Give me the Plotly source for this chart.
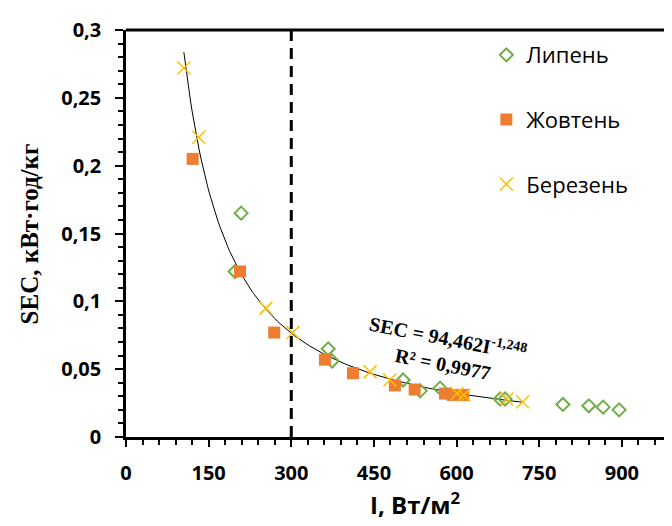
import numpy as np
import plotly.graph_objects as go

# Data
lypen_x = [198, 209, 367, 374, 503, 534, 570, 679, 688, 793, 840, 866, 895]
lypen_y = [0.122, 0.165, 0.065, 0.056, 0.042, 0.034, 0.036, 0.028, 0.028, 0.024, 0.023, 0.022, 0.020]

zhovten_x = [121, 207, 269, 361, 412, 488, 524, 579, 593, 612]
zhovten_y = [0.205, 0.122, 0.077, 0.057, 0.047, 0.038, 0.035, 0.032, 0.031, 0.031]

berezen_x = [105, 132, 254, 303, 443, 479, 601, 613, 691, 720]
berezen_y = [0.272, 0.221, 0.095, 0.077, 0.048, 0.042, 0.032, 0.031, 0.028, 0.026]

# Power trendline shown on the chart: SEC = 94.462 * I^-1.248
fit_a = 94.462
fit_b = -1.248

x_ticks = [0, 150, 300, 450, 600, 750, 900]
y_ticks = [0, 0.05, 0.1, 0.15, 0.2, 0.25, 0.3]
y_tick_text = ["0", "0,05", "0,1", "0,15", "0,2", "0,25", "0,3"]
threshold_x = 300

fit_x = np.linspace(min(berezen_x), max(berezen_x), 200)
fit_y = fit_a * fit_x ** fit_b

tick_font = dict(family="Open Sans", size=20, color="black", weight="bold")

fig = go.Figure()
fig.add_trace(go.Scatter(x=fit_x, y=fit_y, mode="lines", line=dict(color="black", width=1),
                         showlegend=False, hoverinfo="skip"))
fig.add_trace(go.Scatter(x=lypen_x, y=lypen_y, mode="markers", name="Липень", legendgroup="a",
                         marker=dict(symbol="diamond-open", size=10, color="#70AD47",
                                     line=dict(width=2, color="#70AD47"))))
fig.add_trace(go.Scatter(x=zhovten_x, y=zhovten_y, mode="markers", name="Жовтень", legendgroup="b",
                         marker=dict(symbol="square", size=12, color="#ED7D31")))
fig.add_trace(go.Scatter(x=berezen_x, y=berezen_y, mode="markers", name="Березень", legendgroup="c",
                         marker=dict(symbol="x-thin-open", size=13, color="#FFC000",
                                     line=dict(width=1.5, color="#FFC000"))))

fig.add_shape(type="line", xref="x", yref="y", x0=threshold_x, x1=threshold_x, y0=0, y1=0.3,
              line=dict(color="black", width=3, dash="11px,7px"))
fig.add_shape(type="line", xref="paper", yref="paper", x0=0, x1=1, y0=1, y1=1,
              line=dict(color="black", width=3))

fig.add_annotation(xref="paper", yref="paper", x=0.585, y=0.11, showarrow=False,
                   text="SEC = 94,462I<sup>-1,248</sup><br>R² = 0,9977", textangle=11,
                   font=dict(family="Liberation Serif", size=20, color="black", weight="bold"),
                   align="center")
fig.add_annotation(xref="paper", yref="paper", x=0.531, y=-0.164, yanchor="middle", showarrow=False,
                   text="I, Вт/м<sup>2</sup>",
                   font=dict(family="Open Sans", size=24, color="black", weight="bold"))
fig.add_annotation(xref="paper", yref="paper", x=-0.176, y=0.5, xanchor="center", yanchor="middle",
                   showarrow=False, textangle=-90, text="SEC, кВт·год/кг",
                   font=dict(family="Liberation Serif", size=25, color="black", weight="bold"))

fig.update_layout(
    width=672, height=526,
    margin=dict(l=118, r=8, t=14, b=97),
    plot_bgcolor="white", paper_bgcolor="white",
    legend=dict(x=0.66, y=0.99, xanchor="left", yanchor="top", bgcolor="rgba(0,0,0,0)",
                itemwidth=30,
                font=dict(family="Open Sans", size=22, color="black"), tracegroupgap=33),
    xaxis=dict(range=[0, 991], tickvals=x_ticks, ticktext=[str(v) for v in x_ticks],
               showgrid=False, zeroline=False, showline=True, linecolor="black", linewidth=2.5,
               ticks="outside", ticklen=7, tickwidth=2, tickcolor="black", tickfont=tick_font,
               ticklabelstandoff=9,
               minor=dict(dtick=30, ticks="outside", ticklen=5, tickwidth=2, tickcolor="black")),
    yaxis=dict(range=[0, 0.3], tickvals=y_ticks, ticktext=y_tick_text,
               showgrid=False, zeroline=False, showline=True, linecolor="black", linewidth=2.5,
               ticks="outside", ticklen=8, tickwidth=2, tickcolor="black", tickfont=tick_font,
               ticklabelstandoff=10,
               minor=dict(dtick=0.01, ticks="outside", ticklen=5, tickwidth=2, tickcolor="black")),
)

fig.write_html("out.html")
